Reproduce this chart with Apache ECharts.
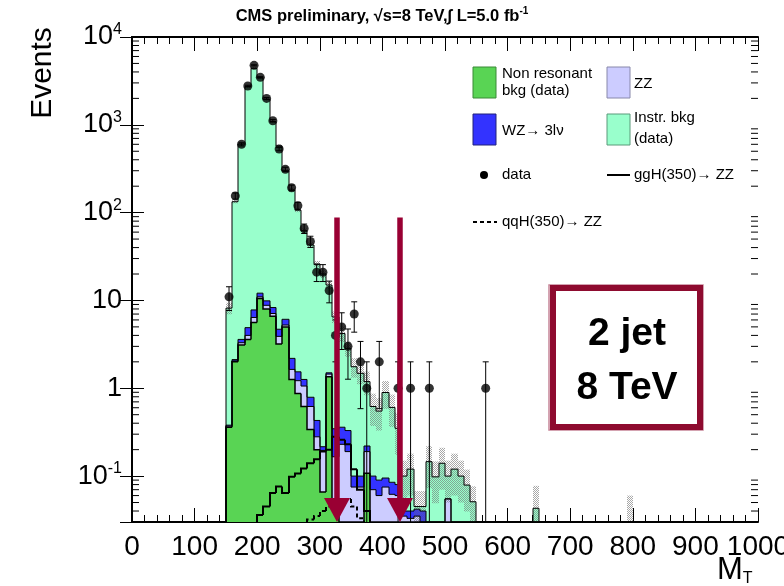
<!DOCTYPE html>
<html><head><meta charset="utf-8">
<script src="https://cdn.jsdelivr.net/npm/echarts@6/dist/echarts.min.js"></script>
<style>html,body{margin:0;padding:0;background:#fff}#c{width:784px;height:586px}</style>
</head><body><div id="c"></div>
<script>
// ---------------- data ----------------
const binWidth = 10;
const binStart = [150,160,170,180,190,200,210,220,230,240,250,260,270,280,290,300,310,320,330,340,350,360,370,380,390,400,410,420,430,440,450,460,470,480,490,500,510,520,530,540,550,640,790];
const nonResonant = [0.36,2.0,3.1,3.6,5.6,10.5,8.0,6.6,3.2,5.0,1.26,0.87,0.62,0.34,0.20,0.066,1.35,0.05,0,0,0,0,0.108,0,0,0,0,0,0,0,0,0,0,0,0,0,0,0,0,0,0,0,0];
const zz = [0.01,0.05,0.2,0.4,0.8,0.5,0.8,0.5,0.7,0.25,0.38,0.35,0.44,0.28,0.08,0.13,0.1,0.116,0.23,0.19,0.075,0.075,0.082,0.07,0.06,0.075,0.062,0.06,0.035,0.033,0.035,0.03,0,0,0,0.055,0,0,0,0,0,0,0];
const wz = [0.01,0.07,0.3,0.9,1.4,1.1,1.1,1.2,0.8,0.85,0.55,0.32,0.2,0.17,0.15,0.02,0.05,0.18,0.13,0.14,0.025,0.025,0.03,0.03,0.03,0.02,0.023,0.02,0.005,0.007,0.007,0.01,0,0,0,0,0,0,0,0,0,0,0];
const instrBkg = [7.8,131,600,2712,4392,3425,1940,1077,568,294,179,105,61,42,25.6,19.8,13.5,6.15,3.84,2.52,1.66,1.38,0.97,0.52,0.46,0.8,0.52,0.27,0.06,0.08,0.003,0.005,0.146,0.098,0.14,0.045,0.12,0.1,0.079,0.051,0,0.043,0.02];
const bkgRelErr = [0.15,0.04,0.03,0.03,0.03,0.03,0.03,0.03,0.04,0.04,0.05,0.05,0.06,0.07,0.08,0.1,0.1,0.15,0.2,0.2,0.25,0.25,0.3,0.4,0.4,0.35,0.4,0.5,0.5,0.5,0.5,0.5,0.5,0.5,0.5,0.5,0.5,0.5,0.5,0.5,0,0.8,2.0];
const ggHBins = [200,210,220,230,240,250,260,270,280,290,300,310,320,330,340,350,360,370];
const ggHVals = [0.036,0.045,0.064,0.076,0.064,0.098,0.107,0.122,0.14,0.155,0.19,0.2,0.28,0.26,0.23,0.12,0.07,0.04];
const qqHBins = [280,290,300,310,320,330,340,350,360];
const qqHVals = [0.032,0.035,0.04,0.045,0.05,0.052,0.055,0.045,0.033];
const dataX = [155,165,175,185,195,205,215,225,235,245,255,265,275,285,295,305,315,325,335,345,355,365,375,395,425,445,475,565];
const dataN = [11,155,600,2770,4760,3475,2000,1114,530,311,192,120,66,47,21,21,13,4,5,3,7,2,1,2,1,1,1,1];
const cutArrows = [328, 428];
const cutArrowTop = 88;
const xTicks = [0,100,200,300,400,500,600,700,800,900,1000];
const yDecades = [0.1,1,10,100,1000,10000];

// ---------------- helpers ----------------
const FONT = '"Liberation Sans", Arial, Helvetica, sans-serif';
const layers = [nonResonant, zz, wz, instrBkg];
const layerNames = ['Non resonant bkg (data)', 'ZZ', 'WZ', 'Instr. bkg (data)'];
const layerColors = ['#59d454', '#ccccff', '#3333ff', '#99ffcc'];
const cum = [];
let run = binStart.map(() => 0);
layers.forEach(L => { run = run.map((v, i) => v + L[i]); cum.push(run.slice()); });
const total = cum[cum.length - 1];

function mkP(params, api) {
  const cs = params.coordSys;
  const t = cs.y, b = cs.y + cs.height;
  return (x, v) => {
    const p = api.coord([x, v > 0 ? v : 1e-9]);
    return [Math.round(p[0]), Math.max(t, Math.min(b, p[1]))];
  };
}
function adjPrev(arr, i) { return i > 0 && arr[i - 1] + binWidth === arr[i]; }
function adjNext(arr, i) { return i < arr.length - 1 && arr[i + 1] === arr[i] + binWidth; }

const pc = document.createElement('canvas');
pc.width = 2; pc.height = 2;
const pg = pc.getContext('2d');
pg.fillStyle = 'rgba(110,110,110,0.6)';
pg.fillRect(0, 0, 1, 1); pg.fillRect(1, 1, 1, 1);
const hatch = { type: 'pattern', image: pc, repeat: 'repeat' };

const series = [];
// stacked fills
layers.forEach((L, k) => {
  series.push({
    type: 'custom', name: layerNames[k], silent: true, z: 2,
    data: binStart.map((b, i) => [b, Math.max(cum[k][i], 1e-6), k ? cum[k - 1][i] : 0]),
    renderItem(params, api) {
      const P = mkP(params, api);
      const b = api.value(0), hi = api.value(1), lo = api.value(2);
      if (!(hi > lo)) return null;
      const a = P(b, hi), c = P(b + binWidth, lo);
      return { type: 'rect', shape: { x: a[0], y: a[1], width: c[0] - a[0], height: c[1] - a[1] }, style: { fill: layerColors[k] } };
    }
  });
});
// hatch (uncertainty)
series.push({
  type: 'custom', silent: true, z: 4,
  data: binStart.map((b, i) => [b, total[i] * (1 + bkgRelErr[i]), total[i] * (1 - bkgRelErr[i])]),
  renderItem(params, api) {
    const P = mkP(params, api);
    const b = api.value(0), hi = api.value(1), lo = api.value(2);
    if (!(hi > lo)) return null;
    const a = P(b, hi), c = P(b + binWidth, lo);
    if (c[1] - a[1] < 0.5) return null;
    return { type: 'rect', shape: { x: a[0], y: a[1], width: c[0] - a[0], height: c[1] - a[1] }, style: { fill: hatch } };
  }
});
// stacked outlines
layers.forEach((L, k) => {
  series.push({
    type: 'custom', silent: true, z: 5,
    data: binStart.map((b, i) => [b, Math.max(cum[k][i], 1e-6), adjPrev(binStart, i) ? cum[k][i - 1] : 0, adjNext(binStart, i) ? 1 : 0]),
    renderItem(params, api) {
      const P = mkP(params, api);
      const b = api.value(0), hi = api.value(1), prev = api.value(2), nxt = api.value(3);
      const pts = [P(b, prev), P(b, hi), P(b + binWidth, hi)];
      if (!nxt) pts.push(P(b + binWidth, 0));
      return { type: 'polyline', shape: { points: pts }, style: { stroke: '#000', lineWidth: k === 0 ? 1.5 : 1, fill: 'none' } };
    }
  });
});
// signal step lines
function stepSeries(bins, vals, dash, width) {
  return {
    type: 'custom', silent: true, z: 6,
    data: bins.map((b, i) => [b, vals[i], adjPrev(bins, i) ? vals[i - 1] : 0, adjNext(bins, i) ? 1 : 0]),
    renderItem(params, api) {
      const P = mkP(params, api);
      const b = api.value(0), hi = api.value(1), prev = api.value(2), nxt = api.value(3);
      const pts = [P(b, prev), P(b, hi), P(b + binWidth, hi)];
      if (!nxt) pts.push(P(b + binWidth, 0));
      return { type: 'polyline', shape: { points: pts }, style: { stroke: '#000', lineWidth: width, fill: 'none', lineDash: dash } };
    }
  };
}
series.push(stepSeries(ggHBins, ggHVals, null, 2));
series.push(stepSeries(qqHBins, qqHVals, [4, 3], 2));
// data error bars
series.push({
  type: 'custom', silent: true, z: 7,
  data: dataX.map((x, i) => [x, dataN[i] + Math.sqrt(dataN[i]), dataN[i] - Math.sqrt(dataN[i])]),
  renderItem(params, api) {
    const cs = params.coordSys;
    const t = cs.y, bt = cs.y + cs.height;
    const f = v => { const p = api.coord([api.value(0), v > 0 ? v : 1e-9]); return [p[0], Math.max(t, Math.min(bt, p[1]))]; };
    const a = f(api.value(1)), c = f(api.value(2));
    const ch = [{ type: 'line', shape: { x1: a[0], y1: a[1], x2: c[0], y2: c[1] }, style: { stroke: '#000', lineWidth: 1 } }];
    ch.push({ type: 'line', shape: { x1: a[0] - 3, y1: a[1], x2: a[0] + 3, y2: a[1] }, style: { stroke: '#000', lineWidth: 1 } });
    if (c[1] < bt - 0.5) ch.push({ type: 'line', shape: { x1: c[0] - 3, y1: c[1], x2: c[0] + 3, y2: c[1] }, style: { stroke: '#000', lineWidth: 1 } });
    return { type: 'group', children: ch };
  }
});
series.push({
  type: 'scatter', name: 'data', z: 8, silent: true,
  symbol: 'circle', symbolSize: 9, itemStyle: { color: '#000' },
  data: dataX.map((x, i) => [x, dataN[i]])
});
// cut arrows
series.push({
  type: 'custom', silent: true, z: 9,
  data: cutArrows.map(x => [x, cutArrowTop]),
  renderItem(params, api) {
    const P = mkP(params, api);
    const x = api.value(0), top = api.value(1);
    const a = P(x, top), tip = P(x, 1e-9);
    const hb = tip[1] - 24;
    return { type: 'group', children: [
      { type: 'line', shape: { x1: a[0], y1: a[1], x2: a[0], y2: hb + 2 }, style: { stroke: '#990033', lineWidth: 5.5 } },
      { type: 'polygon', shape: { points: [[a[0] - 13, hb], [a[0] + 13, hb], [a[0], tip[1]]] }, style: { fill: '#990033' } }
    ] };
  }
});
// log minor ticks (axis decoration)
const minorVals = [];
for (let e = -2; e < 4; e++) for (let m = 2; m <= 9; m++) { const v = m * Math.pow(10, e); if (v > 0.0299 && v < 1e4) minorVals.push(v); }
series.push({
  type: 'custom', silent: true, z: 10,
  data: minorVals.map(v => [0, v]),
  renderItem(params, api) {
    const cs = params.coordSys;
    const p = api.coord([0, api.value(1)]);
    const y = p[1];
    return { type: 'group', children: [
      { type: 'line', shape: { x1: cs.x, y1: y, x2: cs.x + 7, y2: y }, style: { stroke: '#000', lineWidth: 1 } },
      { type: 'line', shape: { x1: cs.x + cs.width, y1: y, x2: cs.x + cs.width - 7, y2: y }, style: { stroke: '#000', lineWidth: 1 } }
    ] };
  }
});

function yFmt(v) {
  const l = Math.log10(v), r = Math.round(l);
  if (Math.abs(l - r) > 1e-6) return '';
  if (!yDecades.some(d => Math.abs(Math.log10(d) - r) < 1e-6)) return '';
  if (r === 0) return '{b|1}';
  if (r === 1) return '{b|10}';
  return '{b|10}{s|' + r + '}';
}
const axisLineStyle = { show: true, lineStyle: { color: '#000', width: 2 } };
const xAxisCommon = {
  type: 'value', min: 0, max: 1000, interval: 100,
  axisLine: axisLineStyle, splitLine: { show: false },
  axisTick: { show: true, inside: true, length: 14, lineStyle: { color: '#000', width: 1 } },
  minorTick: { show: true, splitNumber: 5, length: 7, lineStyle: { color: '#000', width: 1 } }
};
const yAxisCommon = {
  type: 'log', logBase: 10, min: 0.03, max: 10000,
  axisLine: axisLineStyle, splitLine: { show: false },
  axisTick: { show: true, inside: true, length: 12, lineStyle: { color: '#000', width: 1 } },
  minorTick: { show: false }
};

const chart = echarts.init(document.getElementById('c'), null, { renderer: 'canvas', width: 784, height: 586 });
chart.setOption({
  animation: false,
  backgroundColor: '#fff',
  grid: { left: 132, right: 26, top: 37, bottom: 64, show: false, containLabel: false, outerBoundsMode: 'none' },
  xAxis: [
    Object.assign({}, xAxisCommon, { position: 'bottom',
      axisLabel: { show: true, color: '#000', fontFamily: FONT, fontSize: 28, margin: 11,
        formatter: v => xTicks.includes(v) ? String(v) : '' } }),
    Object.assign({}, xAxisCommon, { position: 'top', axisLabel: { show: false } })
  ],
  yAxis: [
    Object.assign({}, yAxisCommon, { position: 'left',
      axisLabel: { show: true, color: '#000', margin: 10, formatter: yFmt,
        rich: { b: { fontFamily: FONT, fontSize: 27, color: '#000', lineHeight: 30 },
                s: { fontFamily: FONT, fontSize: 16, color: '#000', verticalAlign: 'top', lineHeight: 14 } } } }),
    Object.assign({}, yAxisCommon, { position: 'right', axisLabel: { show: false } })
  ],
  series: series,
  graphic: [
    { type: 'text', x: 382, y: 16, z: 100, style: { text: '{t|CMS preliminary, √s=8 TeV,∫ L=5.0 fb}{s|-1}', align: 'center', verticalAlign: 'middle',
      rich: { t: { fontFamily: FONT, fontWeight: 'bold', fontSize: 16.5, fill: '#000', lineHeight: 19 }, s: { fontFamily: FONT, fontWeight: 'bold', fontSize: 10, fill: '#000', verticalAlign: 'top', lineHeight: 10 } } } },
    { type: 'text', x: 43, y: 73, rotation: Math.PI / 2, z: 100, style: { text: 'Events', font: '30px ' + FONT, fill: '#000', align: 'center', verticalAlign: 'middle' } },
    { type: 'text', x: 717, y: 570, z: 100, style: { text: '{m|M}{t|T}', align: 'left', verticalAlign: 'middle',
      rich: { m: { fontFamily: FONT, fontSize: 31, fill: '#000', lineHeight: 34 }, t: { fontFamily: FONT, fontSize: 16, fill: '#000', verticalAlign: 'bottom', lineHeight: 16 } } } },
    // legend
    { type: 'rect', z: 100, shape: { x: 473, y: 67, width: 23, height: 31 }, style: { fill: layerColors[0], stroke: '#3a8a36', lineWidth: 1 } },
    { type: 'text', x: 502, y: 74, z: 100, style: { text: 'Non resonant', font: '15px ' + FONT, fill: '#000', verticalAlign: 'middle' } },
    { type: 'text', x: 502, y: 91, z: 100, style: { text: 'bkg (data)', font: '15px ' + FONT, fill: '#000', verticalAlign: 'middle' } },
    { type: 'rect', z: 100, shape: { x: 607, y: 67, width: 23, height: 31 }, style: { fill: layerColors[1], stroke: '#8888aa', lineWidth: 1 } },
    { type: 'text', x: 634, y: 84, z: 100, style: { text: 'ZZ', font: '15px ' + FONT, fill: '#000', verticalAlign: 'middle' } },
    { type: 'rect', z: 100, shape: { x: 473, y: 114, width: 23, height: 31 }, style: { fill: layerColors[2], stroke: '#22227a', lineWidth: 1 } },
    { type: 'text', x: 502, y: 131, z: 100, style: { text: 'WZ→ 3lν', font: '15px ' + FONT, fill: '#000', verticalAlign: 'middle' } },
    { type: 'rect', z: 100, shape: { x: 607, y: 114, width: 23, height: 31 }, style: { fill: layerColors[3], stroke: '#5a9a7a', lineWidth: 1 } },
    { type: 'text', x: 634, y: 118, z: 100, style: { text: 'Instr. bkg', font: '15px ' + FONT, fill: '#000', verticalAlign: 'middle' } },
    { type: 'text', x: 634, y: 139, z: 100, style: { text: '(data)', font: '15px ' + FONT, fill: '#000', verticalAlign: 'middle' } },
    { type: 'circle', z: 100, shape: { cx: 484, cy: 175, r: 4 }, style: { fill: '#000' } },
    { type: 'text', x: 502, y: 175, z: 100, style: { text: 'data', font: '15px ' + FONT, fill: '#000', verticalAlign: 'middle' } },
    { type: 'line', z: 100, shape: { x1: 607, y1: 175, x2: 630, y2: 175 }, style: { stroke: '#000', lineWidth: 2 } },
    { type: 'text', x: 634, y: 175, z: 100, style: { text: 'ggH(350)→ ZZ', font: '15px ' + FONT, fill: '#000', verticalAlign: 'middle' } },
    { type: 'line', z: 100, shape: { x1: 473, y1: 222, x2: 497, y2: 222 }, style: { stroke: '#000', lineWidth: 2, lineDash: [4, 3] } },
    { type: 'text', x: 502, y: 222, z: 100, style: { text: 'qqH(350)→ ZZ', font: '15px ' + FONT, fill: '#000', verticalAlign: 'middle' } },
    // 2 jet box
    { type: 'rect', z: 100, shape: { x: 553, y: 288, width: 147, height: 139 }, style: { fill: 'none', stroke: '#8e0b2f', lineWidth: 6 } },
    { type: 'rect', z: 100, shape: { x: 549, y: 285, width: 154, height: 145 }, style: { fill: 'none', stroke: 'rgba(142,11,47,0.5)', lineWidth: 1.5 } },
    { type: 'text', x: 627, y: 334, z: 100, style: { text: '2 jet', font: 'bold 39px ' + FONT, fill: '#000', align: 'center', verticalAlign: 'middle' } },
    { type: 'text', x: 627, y: 388, z: 100, style: { text: '8 TeV', font: 'bold 39px ' + FONT, fill: '#000', align: 'center', verticalAlign: 'middle' } }
  ]
});
</script>
</body></html>
